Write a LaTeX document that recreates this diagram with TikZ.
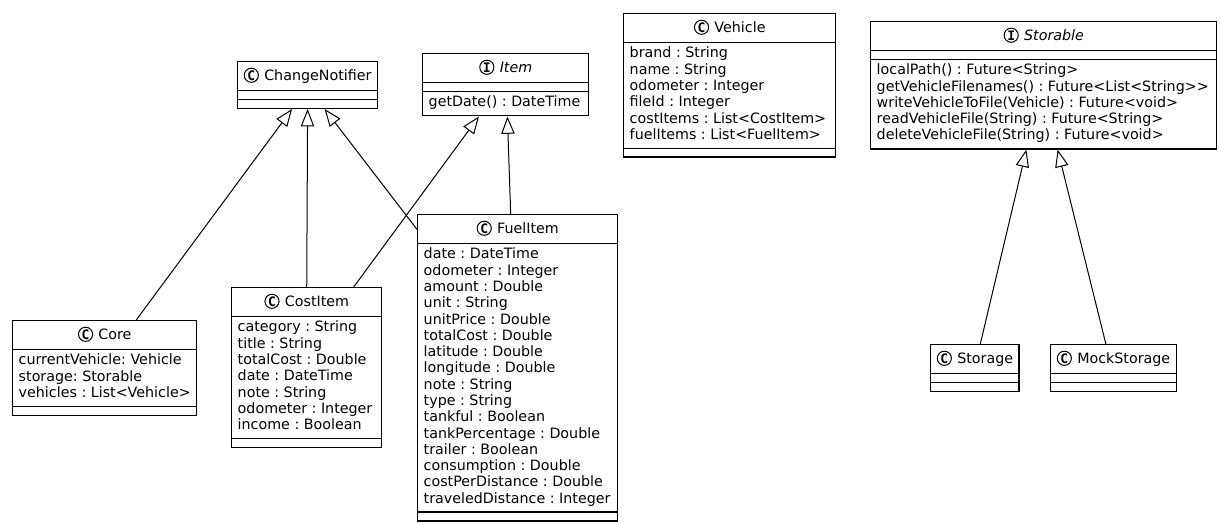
\documentclass[tikz,border=0pt]{standalone}
\usepackage{fontspec}
\setmainfont{DejaVu Sans}
\newfontfamily\markfont{DejaVu Sans Mono}
\usetikzlibrary{arrows.meta,positioning,shapes.multipart,calc}

\newcommand{\umlfont}{\fontsize{10.7}{12.22}\selectfont\frenchspacing}
\newcommand{\stereo}[1]{\makebox[11.4pt]{\tikz[baseline=-3.7pt]\draw[line width=0.75pt] (0,0) circle[radius=5.3pt];}\hspace{-11.4pt}\makebox[11.4pt]{\markfont\bfseries\fontsize{9.8}{9.8}\selectfont #1}}
\newcommand{\classhead}[2]{\rule[-4.6pt]{0pt}{15.4pt}\stereo{#1}\hspace{4pt}#2}
\newcommand{\attrs}[1]{\begin{tabular}{@{}l@{}}#1\end{tabular}}
\newcommand{\nothing}{\hspace*{1pt}\rule{0pt}{0.6pt}}

\begin{document}
\begin{tikzpicture}[x=0.75pt, y=-0.75pt,
        umlclass/.style={rectangle split, rectangle split parts=3, rectangle split part align={center,left,left}, draw=black, line width=1.1pt, fill=white, minimum width=#1*0.75pt, inner xsep=4.5pt, inner ysep=2.5pt, font=\umlfont, anchor=north west},
        extends/.style={-{Triangle[open, length=13pt, width=10pt]}, line width=0.75pt}
    ]
    \useasboundingbox[fill=white] (0,0) rectangle (1221,524);

    \node[umlclass=137] (notifier) at (237,61) {\classhead{C}{ChangeNotifier}\nodepart{two}\nothing\nodepart{three}\nothing};
    \node[umlclass=166] (item) at (422,53) {\classhead{I}{\textit{Item}}\nodepart{two}\nothing\nodepart{three}\attrs{getDate() : DateTime}};
    \node[umlclass=212] (vehicle) at (623,13) {\classhead{C}{Vehicle}\nodepart{two}\attrs{brand : String\\name : String\\odometer : Integer\\fileId : Integer\\costItems : List<CostItem>\\fuelItems : List<FuelItem>}\nodepart{three}\nothing};
    \node[umlclass=346] (storable) at (870,21) {\classhead{I}{\textit{Storable}}\nodepart{two}\nothing\nodepart{three}\attrs{localPath() : Future<String>\\getVehicleFilenames() : Future<List<String>\kern0pt>\\writeVehicleToFile(Vehicle) : Future<void>\\readVehicleFile(String) : Future<String>\\deleteVehicleFile(String) : Future<void>}};
    \node[umlclass=184] (core) at (12,320) {\classhead{C}{Core}\nodepart{two}\attrs{currentVehicle: Vehicle\\storage: Storable\\vehicles : List<Vehicle>}\nodepart{three}\nothing};
    \node[umlclass=150] (costitem) at (231,287) {\classhead{C}{CostItem}\nodepart{two}\attrs{category : String\\title : String\\totalCost : Double\\date : DateTime\\note : String\\odometer : Integer\\income : Boolean}\nodepart{three}\nothing};
    \node[umlclass=200] (fuelitem) at (417,214) {\classhead{C}{FuelItem}\nodepart{two}\attrs{date : DateTime\\odometer : Integer\\amount : Double\\unit : String\\unitPrice : Double\\totalCost : Double\\latitude : Double\\longitude : Double\\note : String\\type : String\\tankful : Boolean\\tankPercentage : Double\\trailer : Boolean\\consumption : Double\\costPerDistance : Double\\traveledDistance : Integer}\nodepart{three}\nothing};
    \node[umlclass=86] (storage) at (930,344) {\classhead{C}{Storage}\nodepart{two}\nothing\nodepart{three}\nothing};
    \node[umlclass=124] (mockstorage) at (1050,344) {\classhead{C}{MockStorage}\nodepart{two}\nothing\nodepart{three}\nothing};

    % Vererbung
    \draw[extends] ($(core.north west)!0.67!(core.north east)$) -- ($(notifier.south west)!0.39!(notifier.south east)$);
    \draw[extends] (costitem.north) -- (notifier.south);
    \draw[extends] ($(fuelitem.north west)!0.05!(fuelitem.south west)$) -- ($(notifier.south west)!0.62!(notifier.south east)$);
    \draw[extends] ($(costitem.north west)!0.81!(costitem.north east)$) -- ($(item.south west)!0.34!(item.south east)$);
    \draw[extends] ($(fuelitem.north west)!0.465!(fuelitem.north east)$) -- ($(item.south west)!0.51!(item.south east)$);
    \draw[extends] ($(storage.north west)!0.56!(storage.north east)$) -- ($(storable.south west)!0.45!(storable.south east)$);
    \draw[extends] ($(mockstorage.north west)!0.44!(mockstorage.north east)$) -- ($(storable.south west)!0.54!(storable.south east)$);
\end{tikzpicture}
\end{document}
